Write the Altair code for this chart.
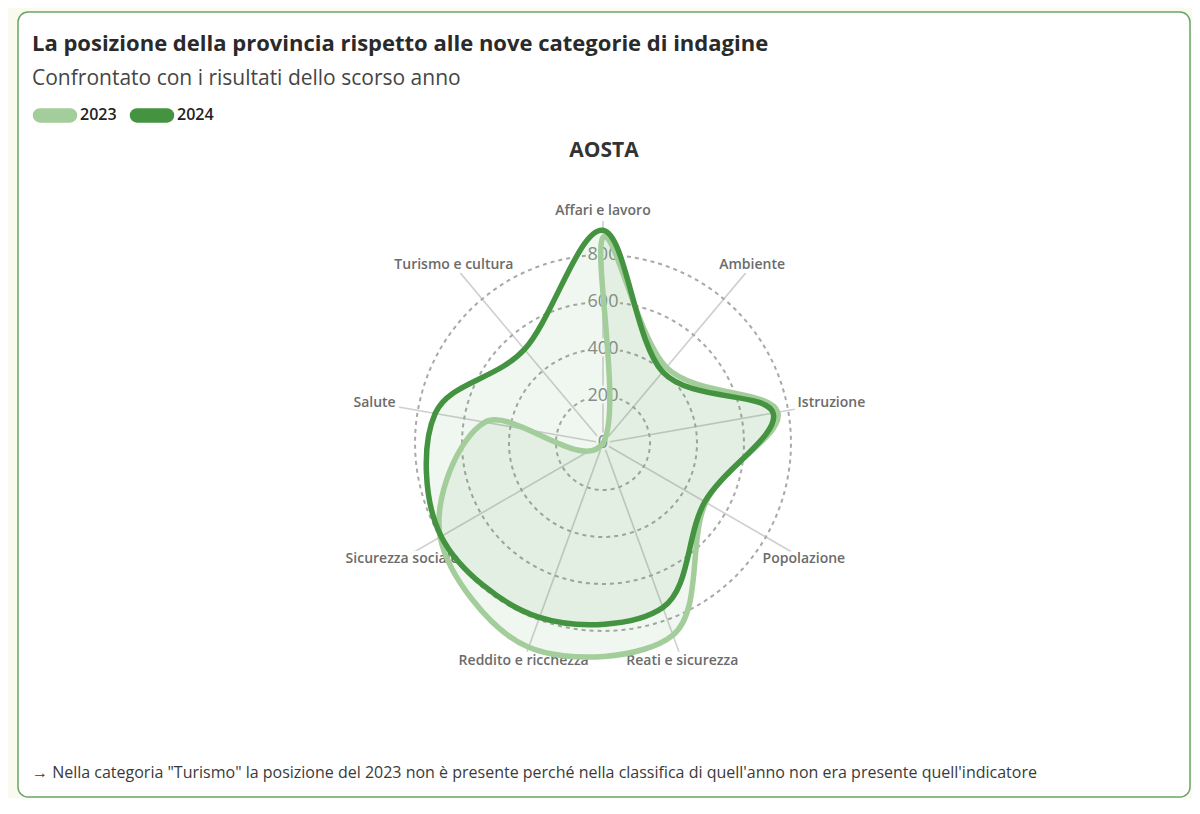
import math
import altair as alt
import pandas as pd

# ---------------- data ----------------
categories = ["Affari e lavoro", "Ambiente", "Istruzione", "Popolazione",
              "Reati e sicurezza", "Reddito e ricchezza", "Sicurezza sociale",
              "Salute", "Turismo e cultura"]
values_2023 = [875, 420, 755, 505, 870, 925, 800, 510, 0]
values_2024 = [905, 395, 735, 500, 745, 790, 795, 725, 520]
years = ["2023", "2024"]
ring_values = [200, 400, 600, 800]
tick_values = [0, 200, 400, 600, 800]

TITLE = "La posizione della provincia rispetto alle nove categorie di indagine"
SUBTITLE = "Confrontato con i risultati dello scorso anno"
PANEL = "AOSTA"
NOTE = ("\u2192 Nella categoria \"Turismo\" la posizione del 2023 non \u00e8 presente "
        "perch\u00e9 nella classifica di quell'anno non era presente quell'indicatore")

# ---------------- layout / style ----------------
FONT = "Open Sans"
LIGHT = "#a3cd9b"
DARK = "#449340"
PLOT_W, PLOT_H = 1172, 785
CX, CY = 585, 431          # radar centre inside plot area (px)
K = 0.235                  # px per unit
SPOKE = 945                # units
LABEL_R = 987              # units
RING_STEPS = 120
N = len(categories)

x_dom = [-CX / K, (PLOT_W - CX) / K]
y_dom = [-(PLOT_H - CY) / K, CY / K]
xs = alt.Scale(domain=x_dom, nice=False, zero=False)
ys = alt.Scale(domain=y_dom, nice=False, zero=False)
year_scale = alt.Scale(domain=years, range=[LIGHT, DARK])

rows = []
for yr, vals in zip(years, [values_2023, values_2024]):
    for i, (c, v) in enumerate(zip(categories, vals)):
        rows.append({"year": yr, "category": c, "idx": i, "value": v})
df = pd.DataFrame(rows)
cat_df = pd.DataFrame({"category": categories, "idx": list(range(N))})
ring_df = pd.DataFrame({"ring": ring_values})
tick_df = pd.DataFrame({"tick": tick_values, "label": [str(t) for t in tick_values]})

ang = f"datum.idx * 2 * PI / {N}"

spokes = alt.Chart(cat_df).transform_calculate(
    x0="0", y0="0",
    xe=f"{SPOKE} * sin({ang})", ye=f"{SPOKE} * cos({ang})"
).mark_rule(color="#d0d0d0", strokeWidth=1.6).encode(
    x=alt.X("x0:Q", scale=xs, axis=None),
    y=alt.Y("y0:Q", scale=ys, axis=None),
    x2="xe:Q", y2="ye:Q")

rings = alt.Chart(ring_df).transform_calculate(
    step=f"sequence(0, {RING_STEPS})"
).transform_flatten(["step"]).transform_calculate(
    rx=f"datum.ring * sin(datum.step * 2 * PI / {RING_STEPS})",
    ry=f"datum.ring * cos(datum.step * 2 * PI / {RING_STEPS})"
).mark_line(interpolate="linear-closed", color="#a9a9a9", strokeWidth=2, strokeDash=[4, 4]).encode(
    x=alt.X("rx:Q", scale=xs, axis=None),
    y=alt.Y("ry:Q", scale=ys, axis=None),
    detail="ring:N", order="step:Q")

tick_base = alt.Chart(tick_df).transform_calculate(x0="0")
tick_halo = tick_base.mark_text(font=FONT, fontSize=18, stroke="white", strokeWidth=5,
                                color="white", baseline="middle").encode(
    x=alt.X("x0:Q", scale=xs, axis=None), y=alt.Y("tick:Q", scale=ys, axis=None), text="label:N")
tick_text = tick_base.mark_text(font=FONT, fontSize=18, color="#8c8c8c", baseline="middle").encode(
    x=alt.X("x0:Q", scale=xs, axis=None), y=alt.Y("tick:Q", scale=ys, axis=None), text="label:N")

lab_base = alt.Chart(cat_df).transform_calculate(
    lx=f"{LABEL_R} * sin({ang})", ly=f"{LABEL_R} * cos({ang})")
lab_halo = lab_base.mark_text(font=FONT, fontSize=14, fontWeight=600, stroke="white",
                              strokeWidth=8, color="white", baseline="middle").encode(
    x=alt.X("lx:Q", scale=xs, axis=None), y=alt.Y("ly:Q", scale=ys, axis=None), text="category:N")
lab_text = lab_base.mark_text(font=FONT, fontSize=14, fontWeight=600, color="#6b6b6b",
                              baseline="middle").encode(
    x=alt.X("lx:Q", scale=xs, axis=None), y=alt.Y("ly:Q", scale=ys, axis=None), text="category:N")

poly = alt.Chart(df).transform_calculate(
    px=f"datum.value * sin({ang})", py=f"datum.value * cos({ang})")

fills = poly.mark_line(interpolate="cardinal-closed", strokeOpacity=0, fill=DARK,
                       fillOpacity=0.08).encode(
    x=alt.X("px:Q", scale=xs, axis=None), y=alt.Y("py:Q", scale=ys, axis=None),
    detail="year:N", order="idx:Q")

PILL = ("M -3,-0.05 L 3,-0.05 A 0.05,0.05 0 0 1 3,0.05 "
        "L -3,0.05 A 0.05,0.05 0 0 1 -3,-0.05 Z")

lines = poly.mark_line(interpolate="cardinal-closed", strokeWidth=5.5, strokeJoin="round").encode(
    x=alt.X("px:Q", scale=xs, axis=None), y=alt.Y("py:Q", scale=ys, axis=None),
    stroke=alt.Stroke("year:N", scale=year_scale, legend=alt.Legend(
        title=None, orient="none", legendX=25, legendY=91, direction="horizontal",
        symbolType=PILL, symbolSize=100, symbolOpacity=1, symbolStrokeWidth=14,
        labelOffset=13, columnPadding=-9, labelFont=FONT, labelFontSize=16,
        labelFontWeight=600, labelColor="#222222")),
    order="idx:Q")

one = pd.DataFrame({"t": [TITLE], "s": [SUBTITLE], "p": [PANEL], "n": [NOTE]})
title = alt.Chart(one).mark_text(font=FONT, fontSize=22, fontWeight="bold", color="#2a2a2a",
                                 align="left", baseline="middle").encode(
    x=alt.value(14), y=alt.value(32), text="t:N")
subtitle = alt.Chart(one).mark_text(font=FONT, fontSize=21, color="#454545",
                                    align="left", baseline="middle").encode(
    x=alt.value(14), y=alt.value(67), text="s:N")
panel = alt.Chart(one).mark_text(font=FONT, fontSize=21, fontWeight="bold", color="#333333",
                                 align="center", baseline="middle").encode(
    x=alt.value(CX + 1), y=alt.value(139), text="p:N")
note = alt.Chart(one).mark_text(font=FONT, fontSize=16, color="#3a3a3a",
                                align="left", baseline="middle").encode(
    x=alt.value(14), y=alt.value(761), text="n:N")

chart = alt.layer(
    spokes, rings, tick_halo, tick_text, lab_halo, lab_text, fills, lines,
    title, subtitle, panel, note
).properties(
    width=PLOT_W, height=PLOT_H,
    padding={"left": 10, "top": 4, "right": 2, "bottom": 1},
    autosize=alt.AutoSizeParams(type="none"),
    background="#fafaef",
).configure_view(
    fill="white", stroke="#6aa664", strokeWidth=1.5, cornerRadius=10
)

chart.save("out.html", embed_options={"renderer": "svg", "actions": False})
